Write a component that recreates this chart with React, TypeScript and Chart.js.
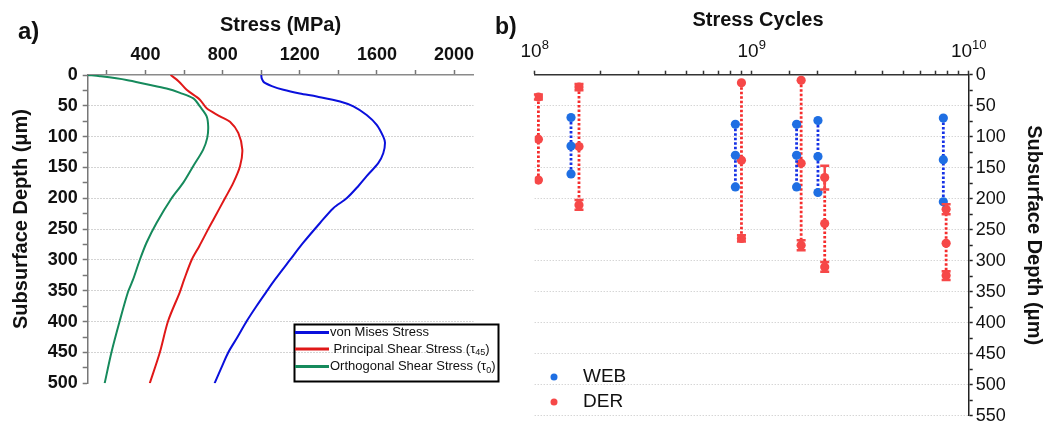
import React, { useEffect, useRef } from 'react';
import { Chart, registerables } from 'chart.js';

Chart.register(...registerables);

const FONT = "'Liberation Sans', Arial, Helvetica, sans-serif";

// ---------------- Panel a data ----------------
const stressTicks = [200, 400, 600, 800, 1000, 1200, 1400, 1600, 1800, 2000];
const depthTicksA = [0, 25, 50, 75, 100, 125, 150, 175, 200, 225, 250, 275, 300, 325, 350, 375, 400, 425, 450, 475, 500];

const vonMisesDepth = [0, 6, 12, 18, 24, 30, 35, 43, 51, 65, 81, 100, 110, 127, 143, 164, 180, 200, 216, 240, 272, 300, 332, 351, 375, 399, 425, 450, 475, 500];
const vonMisesStress = [1000, 1003, 1015, 1055, 1115, 1200, 1288, 1409, 1478, 1547, 1599, 1633, 1642, 1633, 1607, 1547, 1504, 1443, 1374, 1305, 1218, 1149, 1071, 1028, 975, 925, 877, 829, 793, 758];

const principalDepth = [0, 10, 24, 40, 54, 67, 76, 94, 121, 148, 175, 200, 235, 250, 278, 300, 332, 352, 399, 450, 500];
const principalStress = [530, 571, 613, 682, 717, 786, 838, 881, 902, 890, 855, 812, 751, 725, 678, 639, 600, 578, 517, 474, 422];

const orthogonalDepth = [0, 2, 8, 15, 22, 29, 38, 51, 67, 84, 102, 121, 148, 175, 200, 240, 272, 300, 332, 352, 399, 450, 500];
const orthogonalStress = [100, 164, 301, 406, 509, 579, 648, 682, 717, 725, 720, 699, 647, 595, 535, 457, 405, 370, 335, 309, 266, 223, 188];

const curveLabels = ['von Mises Stress', ' Principal Shear Stress (\u03c4', 'Orthogonal Shear Stress (\u03c4'];
const curveSubscripts = ['', '45', '0'];
const curveTails = ['', ')', ')'];
const curveColors = ['#0a10dc', '#e01818', '#168a5c'];

const titleStressA = 'Stress (MPa)';
const titleDepth = 'Subsurface Depth (\u03bcm)';

// ---------------- Panel b data ----------------
const cycleDecades = [8, 9, 10];
const depthTicksB = [0, 25, 50, 75, 100, 125, 150, 175, 200, 225, 250, 275, 300, 325, 350, 375, 400, 425, 450, 475, 500, 525, 550];

const webCycles = [1.47e8, 8.41e8, 1.61e9, 2.02e9, 7.64e9];
const webDepths = [
  [69, 115, 160],
  [80, 130, 181],
  [80, 130, 181],
  [74, 132, 190],
  [70, 137, 205],
];

const derCycles = [1.04e8, 1.6e8, 8.97e8, 1.69e9, 2.17e9, 7.87e9];
const derDepths = [
  [36, 104, 170],
  [20, 116, 210],
  [13, 138, 264],
  [9, 143, 275],
  [166, 240, 310],
  [217, 272, 324],
];
const derErrors = [
  [4, 0, 0],
  [5, 0, 8],
  [0, 0, 5],
  [0, 0, 8],
  [19, 0, 8],
  [8, 0, 7],
];

const seriesNames = ['WEB', 'DER'];
const seriesPointColors = ['#1f6fe3', '#f64848'];
const seriesLineColors = ['#1632e6', '#f52c2c'];
const titleCycles = 'Stress Cycles';

function noPad(s: any) {
  s.paddingTop = 0;
  s.paddingBottom = 0;
  s.paddingLeft = 0;
  s.paddingRight = 0;
}

const panelAPlugin = {
  id: 'panelA',
  afterDraw(chart: any) {
    const ctx = chart.ctx as CanvasRenderingContext2D;
    const area = chart.chartArea;
    ctx.save();
    ctx.fillStyle = '#111';
    ctx.font = `bold 24px ${FONT}`;
    ctx.textAlign = 'left';
    ctx.textBaseline = 'alphabetic';
    ctx.fillText('a)', 18, 39);

    ctx.font = `bold 20px ${FONT}`;
    ctx.textAlign = 'center';
    ctx.textBaseline = 'middle';
    ctx.fillText(titleStressA, (area.left + area.right) / 2, 25);

    ctx.save();
    ctx.translate(21, 219);
    ctx.rotate(-Math.PI / 2);
    ctx.fillText(titleDepth, 0, 0);
    ctx.restore();

    // legend box
    const bx = 294.5, by = 324.5, bw = 204, bh = 57;
    ctx.strokeStyle = '#000';
    ctx.lineWidth = 2;
    ctx.strokeRect(bx, by, bw, bh);
    const rows = [332.5, 349, 366.5];
    curveLabels.forEach((lab, i) => {
      const y = rows[i];
      ctx.strokeStyle = curveColors[i];
      ctx.lineWidth = 3;
      ctx.beginPath();
      ctx.moveTo(295, y);
      ctx.lineTo(329, y);
      ctx.stroke();
      ctx.fillStyle = '#111';
      ctx.font = `13px ${FONT}`;
      ctx.textAlign = 'left';
      ctx.textBaseline = 'middle';
      let x = 330;
      ctx.fillText(lab, x, y);
      x += ctx.measureText(lab).width;
      if (curveSubscripts[i]) {
        ctx.font = `9px ${FONT}`;
        ctx.fillText(curveSubscripts[i], x, y + 4);
        x += ctx.measureText(curveSubscripts[i]).width;
        ctx.font = `13px ${FONT}`;
        ctx.fillText(curveTails[i], x, y);
      }
    });
    ctx.restore();
  },
};

const panelBPlugin = {
  id: 'panelB',
  afterDatasetsDraw(chart: any) {
    const ctx = chart.ctx as CanvasRenderingContext2D;
    const xs = chart.scales.x;
    const ys = chart.scales.y;
    ctx.save();
    ctx.strokeStyle = seriesPointColors[1];
    ctx.lineWidth = 2.5;
    derCycles.forEach((c, g) => {
      const x = xs.getPixelForValue(c);
      derDepths[g].forEach((d, k) => {
        const e = derErrors[g][k];
        if (!e) return;
        const y1 = ys.getPixelForValue(d - e);
        const y2 = ys.getPixelForValue(d + e);
        ctx.beginPath();
        ctx.moveTo(x, y1);
        ctx.lineTo(x, y2);
        ctx.moveTo(x - 4.5, y1);
        ctx.lineTo(x + 4.5, y1);
        ctx.moveTo(x - 4.5, y2);
        ctx.lineTo(x + 4.5, y2);
        ctx.stroke();
      });
    });
    ctx.restore();
  },
  afterDraw(chart: any) {
    const ctx = chart.ctx as CanvasRenderingContext2D;
    const area = chart.chartArea;
    const xs = chart.scales.x;
    ctx.save();
    ctx.fillStyle = '#111';
    ctx.font = `bold 23px ${FONT}`;
    ctx.textAlign = 'left';
    ctx.textBaseline = 'alphabetic';
    ctx.fillText('b)', 495, 34);

    ctx.font = `bold 20px ${FONT}`;
    ctx.textAlign = 'center';
    ctx.textBaseline = 'middle';
    ctx.fillText(titleCycles, 758, 20);

    ctx.save();
    ctx.translate(1034, (area.top + area.bottom) / 2 - 10);
    ctx.rotate(Math.PI / 2);
    ctx.fillText(titleDepth, 0, 0);
    ctx.restore();

    // x tick labels with exponents
    ctx.textAlign = 'left';
    ctx.textBaseline = 'alphabetic';
    cycleDecades.forEach((p) => {
      const px = xs.getPixelForValue(Math.pow(10, p));
      ctx.font = `19px ${FONT}`;
      const wb = ctx.measureText('10').width;
      ctx.font = `13px ${FONT}`;
      const we = ctx.measureText(String(p)).width;
      const x0 = px - (wb + we) / 2;
      ctx.font = `19px ${FONT}`;
      ctx.fillText('10', x0, 57);
      ctx.font = `13px ${FONT}`;
      ctx.fillText(String(p), x0 + wb, 49);
    });

    // legend
    const ly = [377, 402];
    seriesNames.forEach((n, i) => {
      ctx.fillStyle = seriesPointColors[i];
      ctx.beginPath();
      ctx.arc(554, ly[i], 3.5, 0, Math.PI * 2);
      ctx.fill();
      ctx.fillStyle = '#111';
      ctx.font = `19px ${FONT}`;
      ctx.textBaseline = 'middle';
      ctx.fillText(n, 583, ly[i]);
    });
    ctx.restore();
  },
};

export default function App() {
  const refA = useRef<HTMLCanvasElement>(null);
  const refB = useRef<HTMLCanvasElement>(null);

  useEffect(() => {
    const curves = [
      { d: vonMisesDepth, s: vonMisesStress },
      { d: principalDepth, s: principalStress },
      { d: orthogonalDepth, s: orthogonalStress },
    ];
    const chartA = new Chart(refA.current as HTMLCanvasElement, {
      type: 'scatter',
      data: {
        datasets: curves.map((c, i) => ({
          label: curveLabels[i],
          data: c.d.map((d, k) => ({ x: c.s[k], y: d })),
          showLine: true,
          borderColor: curveColors[i],
          backgroundColor: curveColors[i],
          borderWidth: 2,
          pointRadius: 0,
          tension: 0.3,
        })),
      },
      options: {
        responsive: false,
        animation: false,
        events: [],
        layout: { padding: { left: 0, right: 577.7, top: 0, bottom: 41.7 } },
        scales: {
          x: {
            type: 'linear',
            position: 'top',
            min: 100,
            max: 2100,
            afterBuildTicks: (s: any) => {
              s.ticks = stressTicks.map((v) => ({ value: v }));
            },
            afterFit: (s: any) => {
              s.height = 75;
              noPad(s);
            },
            ticks: {
              autoSkip: false,
              maxRotation: 0,
              padding: 4,
              color: '#111',
              font: { family: FONT, size: 18, weight: 'bold' },
              callback: (v: any) => (Number(v) % 400 === 0 ? String(v) : ''),
            },
            grid: { drawOnChartArea: false, tickLength: 5, tickColor: '#777', tickWidth: 1.5 },
            border: { color: '#8a8a8a', width: 1.5 },
          },
          y: {
            type: 'linear',
            position: 'left',
            reverse: true,
            min: 0,
            max: 500,
            afterBuildTicks: (s: any) => {
              s.ticks = depthTicksA.map((v) => ({ value: v }));
            },
            afterFit: (s: any) => {
              s.width = 87.7;
              noPad(s);
            },
            ticks: {
              autoSkip: false,
              padding: 5,
              color: '#111',
              font: { family: FONT, size: 18, weight: 'bold' },
              callback: (v: any) => (Number(v) % 50 === 0 ? String(v) : ''),
            },
            grid: {
              color: (c: any) => {
                const v = c.tick ? c.tick.value : 0;
                return v % 50 === 0 && v > 0 && v < 500 ? '#a8a8a8' : 'rgba(0,0,0,0)';
              },
              tickColor: '#777',
              tickLength: 5,
              tickWidth: 1.5,
            },
            border: { color: '#777', width: 1.5, dash: [1, 2] },
          },
        },
        plugins: { legend: { display: false }, tooltip: { enabled: false } },
      } as any,
      plugins: [panelAPlugin],
    });

    const datasetsB: any[] = [];
    const groups = [
      { cyc: webCycles, dep: webDepths, s: 0 },
      { cyc: derCycles, dep: derDepths, s: 1 },
    ];
    groups.forEach((gr) => {
      gr.cyc.forEach((c, g) => {
        datasetsB.push({
          label: seriesNames[gr.s],
          data: gr.dep[g].map((d) => ({ x: c, y: d })),
          showLine: true,
          borderColor: seriesLineColors[gr.s],
          borderDash: [2.5, 2],
          borderWidth: 2.8,
          pointRadius: 4.6,
          pointBorderWidth: 0,
          pointBackgroundColor: seriesPointColors[gr.s],
          backgroundColor: seriesPointColors[gr.s],
        });
      });
    });

    const chartB = new Chart(refB.current as HTMLCanvasElement, {
      type: 'scatter',
      data: { datasets: datasetsB },
      options: {
        responsive: false,
        animation: false,
        events: [],
        layout: { padding: { left: 534.7, right: 0, top: 0, bottom: 9.3 } },
        scales: {
          x: {
            type: 'logarithmic',
            position: 'top',
            min: 1e8,
            max: 1e10,
            afterFit: (s: any) => {
              s.height = 74.7;
              noPad(s);
            },
            ticks: { autoSkip: false, maxRotation: 0, callback: () => '' },
            grid: { drawOnChartArea: false, tickLength: 4, tickColor: '#333', tickWidth: 1.5 },
            border: { color: '#333', width: 1.5 },
          },
          y: {
            type: 'linear',
            position: 'right',
            reverse: true,
            min: 0,
            max: 550,
            afterBuildTicks: (s: any) => {
              s.ticks = depthTicksB.map((v) => ({ value: v }));
            },
            afterFit: (s: any) => {
              s.width = 82.3;
              noPad(s);
            },
            ticks: {
              autoSkip: false,
              padding: 3,
              color: '#111',
              font: { family: FONT, size: 18 },
              callback: (v: any) => (Number(v) % 50 === 0 ? String(v) : ''),
            },
            grid: {
              color: (c: any) => {
                const v = c.tick ? c.tick.value : 0;
                return v % 50 === 0 && v > 0 ? '#c4c4c4' : 'rgba(0,0,0,0)';
              },
              tickColor: '#222',
              tickLength: 4,
              tickWidth: 1.5,
            },
            border: { color: '#222', width: 1.5, dash: [1, 2] },
          },
        },
        plugins: { legend: { display: false }, tooltip: { enabled: false } },
      } as any,
      plugins: [panelBPlugin],
    });

    return () => {
      chartA.destroy();
      chartB.destroy();
    };
  }, []);

  return (
    <div style={{ position: 'absolute', left: 0, top: 0, width: 1051, height: 425, background: '#fff' }}>
      <canvas ref={refA} width={1051} height={425} style={{ position: 'absolute', left: 0, top: 0 }} />
      <canvas ref={refB} width={1051} height={425} style={{ position: 'absolute', left: 0, top: 0 }} />
    </div>
  );
}
